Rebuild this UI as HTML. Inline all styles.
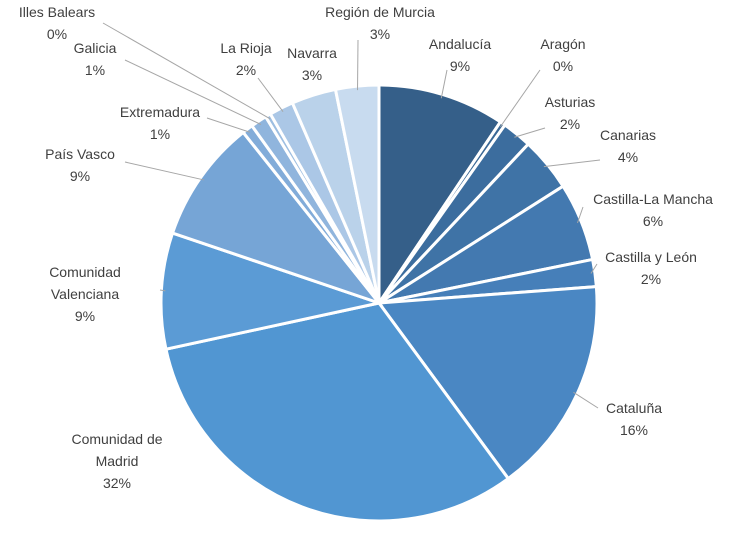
<!DOCTYPE html>
<html><head><meta charset="utf-8"><style>
html,body{margin:0;padding:0;background:#fff;width:754px;height:552px;overflow:hidden}
svg text{font-family:"Liberation Sans",sans-serif;font-size:14px;fill:#404040}
</style></head><body>
<svg id="chart" width="754" height="552" viewBox="0 0 754 552"></svg>
<script>
const categories=["Andalucía","Aragón","Asturias","Canarias","Castilla-La Mancha","Castilla y León","Cataluña","Comunidad de Madrid","Comunidad Valenciana","País Vasco","Extremadura","Galicia","Illes Balears","La Rioja","Navarra","Región de Murcia"];
const values=[9.4,0.4,2.2,4.0,5.8,2.0,16.1,31.7,8.6,9.1,0.8,1.2,0.4,1.8,3.3,3.2];
const pctLabels=["9%","0%","2%","4%","6%","2%","16%","32%","9%","9%","1%","1%","0%","2%","3%","3%"];
const colors=["#355f89","#3a6896","#3c6d9e","#3f73a6","#4379b0","#467fb9","#4a87c3","#5196d2","#5b9bd5","#76a5d6","#82acd9","#90b5dd","#9dbee1","#abc7e6","#bad2ea","#c8dbef"];
const layout=[
 [["Andalucía","9%"],460,49,447,70],
 [["Aragón","0%"],563,49,540,70],
 [["Asturias","2%"],570,107,545,128],
 [["Canarias","4%"],628,140,600,160],
 [["Castilla-La Mancha","6%"],653,204,583,207],
 [["Castilla y León","2%"],651,262,597,264],
 [["Cataluña","16%"],634,413,598,408],
 [["Comunidad de","Madrid","32%"],117,444,null,null],
 [["Comunidad","Valenciana","9%"],85,277,160,290],
 [["País Vasco","9%"],80,159,125,162],
 [["Extremadura","1%"],160,117,207,118],
 [["Galicia","1%"],95,53,125,60],
 [["Illes Balears","0%"],57,17,103,23],
 [["La Rioja","2%"],246,53,258,78],
 [["Navarra","3%"],312,58,null,null],
 [["Región de Murcia","3%"],380,17,358,40]
];
const svg=document.getElementById('chart');
const NS="http://www.w3.org/2000/svg";
const cx=379,cy=303,R=218;
const total=values.reduce((a,b)=>a+b,0);
function pt(frac,r){const a=frac*2*Math.PI;return [cx+r*Math.sin(a),cy-r*Math.cos(a)];}
let acc=0;
values.forEach((v,i)=>{
 const s=acc/total,e=(acc+v)/total;acc+=v;
 const p0=pt(s,R),p1=pt(e,R);
 const large=(e-s)>0.5?1:0;
 const path=document.createElementNS(NS,'path');
 path.setAttribute('d',`M${cx},${cy}L${p0[0]},${p0[1]}A${R},${R} 0 ${large} 1 ${p1[0]},${p1[1]}Z`);
 path.setAttribute('fill',colors[i]);path.setAttribute('stroke','#fff');path.setAttribute('stroke-width','3');
 
 
 svg.appendChild(path);
 const L=layout[i];
 if(L[3]!==null){
  const m=pt((s+e)/2,R-4);
  const ln=document.createElementNS(NS,'polyline');
  ln.setAttribute('points',`${m[0]},${m[1]} ${L[3]},${L[4]}`);
  ln.setAttribute('fill','none');ln.setAttribute('stroke','#a6a6a6');ln.setAttribute('stroke-width','1');
  
  
  svg.appendChild(ln);
 }
 const t=document.createElementNS(NS,'text');
 t.setAttribute('text-anchor','middle');
 
 
 const lines=L[0].slice(0,-1).concat([pctLabels[i]]);
 lines.forEach((txt,k)=>{const ts=document.createElementNS(NS,'tspan');ts.setAttribute('x',L[1]);ts.setAttribute('y',L[2]+k*22);ts.textContent=txt;t.appendChild(ts);});
 svg.appendChild(t);
});
</script>
</body></html>
